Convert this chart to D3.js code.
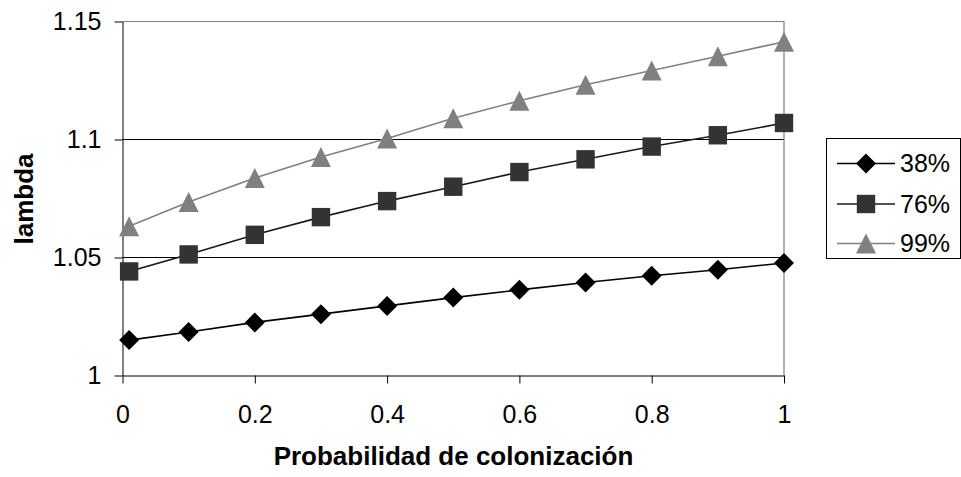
<!DOCTYPE html>
<html>
<head>
<meta charset="utf-8">
<script src="https://cdn.jsdelivr.net/npm/d3@7"></script>
<style>
  html, body { margin: 0; padding: 0; background: #fff; }
  svg { display: block; font-family: "Liberation Sans", Arial, sans-serif; }
</style>
</head>
<body>
<svg id="chart" width="961" height="477"></svg>
<script>
// Probabilidad de colonización (x) vs lambda for three survival levels
const xValues = [0.01, 0.1, 0.2, 0.3, 0.4, 0.5, 0.6, 0.7, 0.8, 0.9, 1.0];
const s38 = [1.0150, 1.0184, 1.0225, 1.0260, 1.0295, 1.0330, 1.0363, 1.0394, 1.0423, 1.0448, 1.0477];
const s76 = [1.0441, 1.0513, 1.0596, 1.0671, 1.0739, 1.0800, 1.0862, 1.0916, 1.0970, 1.1018, 1.1070];
const s99 = [1.0632, 1.0735, 1.0837, 1.0926, 1.1004, 1.1090, 1.1164, 1.1232, 1.1292, 1.1353, 1.1414];
const seriesNames = ["38%", "76%", "99%"];
const xTicks = [0, 0.2, 0.4, 0.6, 0.8, 1];
const xTickLabels = ["0", "0.2", "0.4", "0.6", "0.8", "1"];
const yTicks = [1, 1.05, 1.1, 1.15];
const yTickLabels = ["1", "1.05", "1.1", "1.15"];
const xTitle = "Probabilidad de colonización";
const yTitle = "lambda";

const svg = d3.select("#chart");
const plot = { left: 122.5, right: 784, top: 21.5, bottom: 375.5 };

const x = d3.scaleLinear().domain([0, 1]).range([plot.left, plot.right]);
const y = d3.scaleLinear().domain([1, 1.15]).range([plot.bottom, plot.top]);

const series = [
  { name: seriesNames[0], values: s38, line: "#000000", fill: "#000000", symbol: "diamond", size: 10 },
  { name: seriesNames[1], values: s76, line: "#1a1a1a", fill: "#333333", symbol: "square", size: 9.2 },
  { name: seriesNames[2], values: s99, line: "#808080", fill: "#808080", symbol: "triangle", size: 10 }
];

// marker path builders (half-size r)
function markerPath(symbol, r) {
  if (symbol === "triangle") {
    return `M0,${-r}L${r},${r}L${-r},${r}Z`;
  }
  if (symbol === "diamond") {
    return `M0,${-r}L${r},0L0,${r}L${-r},0Z`;
  }
  return `M${-r},${-r}H${r}V${r}H${-r}Z`;
}

// horizontal gridlines
svg.append("g")
  .selectAll("line")
  .data(yTicks.filter(v => v > 1 && v < 1.15))
  .join("line")
  .attr("x1", plot.left).attr("x2", plot.right)
  .attr("y1", d => Math.round(y(d)) + 0.5).attr("y2", d => Math.round(y(d)) + 0.5)
  .attr("stroke", "#000").attr("stroke-width", 1);

// plot frame: top and right in gray
svg.append("path")
  .attr("d", `M${plot.left},${plot.top}H${plot.right}V${plot.bottom}`)
  .attr("fill", "none").attr("stroke", "#808080").attr("stroke-width", 1.2);

// x axis
const xAxis = d3.axisBottom(x)
  .tickValues(xTicks)
  .tickFormat((d, i) => xTickLabels[i])
  .tickSize(8)
  .tickSizeOuter(0)
  .tickPadding(22);
const gx = svg.append("g").attr("transform", `translate(0,${plot.bottom})`).call(xAxis);
gx.select(".domain").attr("stroke", "#000");
gx.selectAll(".tick line").attr("stroke", "#000");
gx.selectAll("text").attr("font-size", 25).attr("fill", "#000")
  .attr("font-family", "'Liberation Sans', Arial, sans-serif");

// y axis
const yAxis = d3.axisLeft(y)
  .tickValues(yTicks)
  .tickFormat((d, i) => yTickLabels[i])
  .tickSize(8)
  .tickSizeOuter(0)
  .tickPadding(13);
const gy = svg.append("g").attr("transform", `translate(${plot.left},0)`).call(yAxis);
gy.select(".domain").attr("stroke", "#000");
gy.selectAll(".tick line").attr("stroke", "#000");
gy.selectAll("text").attr("font-size", 25).attr("fill", "#000")
  .attr("font-family", "'Liberation Sans', Arial, sans-serif");

// series lines and markers
const line = d3.line().x((d, i) => x(xValues[i])).y(d => y(d));
series.forEach(s => {
  svg.append("path")
    .datum(s.values)
    .attr("d", line)
    .attr("fill", "none")
    .attr("stroke", s.line)
    .attr("stroke-width", 1.6);
  svg.append("g")
    .selectAll("path")
    .data(s.values)
    .join("path")
    .attr("transform", (d, i) => `translate(${x(xValues[i])},${y(d)})`)
    .attr("d", markerPath(s.symbol, s.size))
    .attr("fill", s.fill);
});

// axis titles
svg.append("text")
  .attr("x", 453.5).attr("y", 465)
  .attr("text-anchor", "middle")
  .attr("font-size", 26).attr("font-weight", "bold")
  .text(xTitle);

svg.append("text")
  .attr("transform", `translate(33,199) rotate(-90)`)
  .attr("text-anchor", "middle")
  .attr("font-size", 26).attr("font-weight", "bold")
  .text(yTitle);

// legend
const legend = svg.append("g");
legend.append("rect")
  .attr("x", 826.5).attr("y", 138.5)
  .attr("width", 134).attr("height", 120)
  .attr("fill", "#fff").attr("stroke", "#000").attr("stroke-width", 1);
const rowY = [163.5, 204, 243.5];
series.forEach((s, i) => {
  const g = legend.append("g").attr("transform", `translate(0,${rowY[i]})`);
  g.append("line")
    .attr("x1", 837).attr("x2", 895).attr("y1", 0).attr("y2", 0)
    .attr("stroke", s.line).attr("stroke-width", 1.6);
  g.append("path")
    .attr("transform", "translate(866,0)")
    .attr("d", markerPath(s.symbol, s.size))
    .attr("fill", s.fill);
  g.append("text")
    .attr("x", 900).attr("y", 0).attr("dy", "0.35em")
    .attr("font-size", 25)
    .text(s.name);
});
</script>
</body>
</html>
